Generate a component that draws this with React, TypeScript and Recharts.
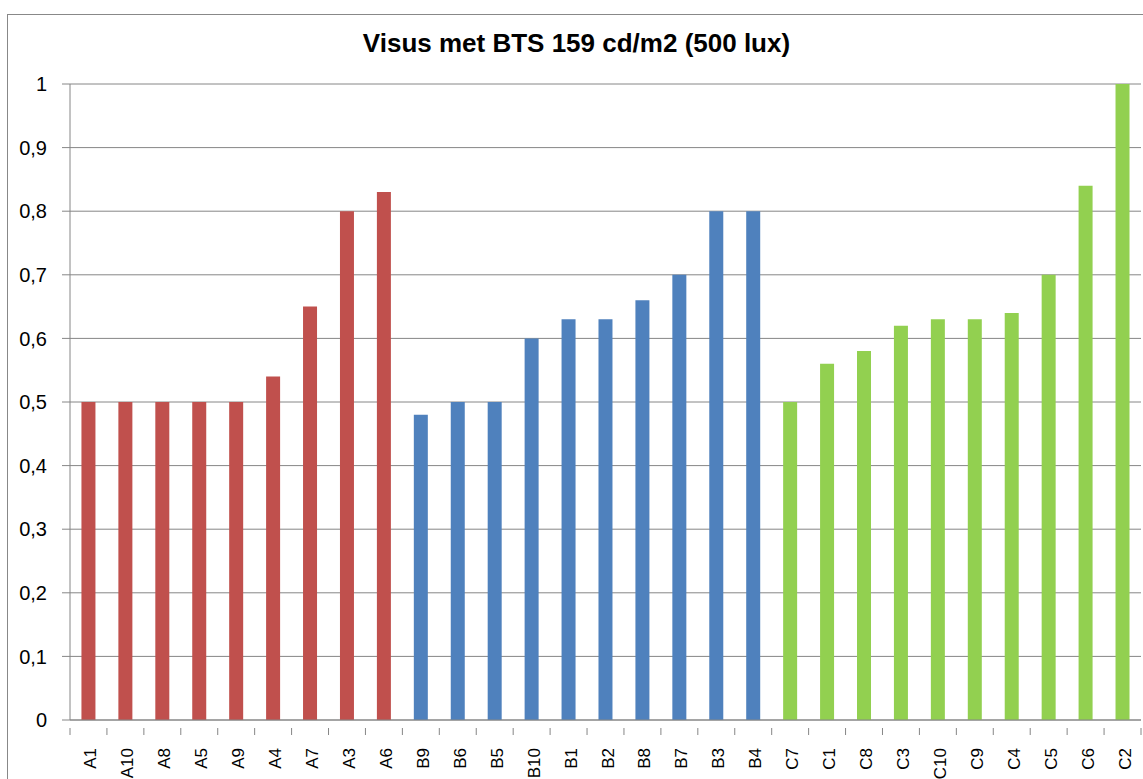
import { BarChart, Bar, XAxis, YAxis, CartesianGrid, Cell } from 'recharts'

const groupANames = ['A1', 'A10', 'A8', 'A5', 'A9', 'A4', 'A7', 'A3', 'A6']
const groupAValues = [0.5, 0.5, 0.5, 0.5, 0.5, 0.54, 0.65, 0.8, 0.83]
const groupBNames = ['B9', 'B6', 'B5', 'B10', 'B1', 'B2', 'B8', 'B7', 'B3', 'B4']
const groupBValues = [0.48, 0.5, 0.5, 0.6, 0.63, 0.63, 0.66, 0.7, 0.8, 0.8]
const groupCNames = ['C7', 'C1', 'C8', 'C3', 'C10', 'C9', 'C4', 'C5', 'C6', 'C2']
const groupCValues = [0.5, 0.56, 0.58, 0.62, 0.63, 0.63, 0.64, 0.7, 0.84, 1]
const yTicks = [0, 0.1, 0.2, 0.3, 0.4, 0.5, 0.6, 0.7, 0.8, 0.9, 1]

const groupColors = ['#C0504D', '#4F81BD', '#92D050']

const data = [
  ...groupANames.map((name, i) => ({ name, value: groupAValues[i], group: 0 })),
  ...groupBNames.map((name, i) => ({ name, value: groupBValues[i], group: 1 })),
  ...groupCNames.map((name, i) => ({ name, value: groupCValues[i], group: 2 })),
]

const font = '"Liberation Sans", Arial, sans-serif'
const axisColor = '#868686'

// Excel puts the category ticks on the boundaries, so draw them ourselves
function CategoryTick(props: any) {
  const { x, y, payload, index } = props
  const half = 1071 / data.length / 2
  return (
    <g>
      {index === 0 && <line x1={x - half} y1={y} x2={x - half} y2={y + 7} stroke={axisColor} />}
      <line x1={x + half} y1={y} x2={x + half} y2={y + 7} stroke={axisColor} />
      <text
        x={x + 8}
        y={y + 20}
        transform={`rotate(-90, ${x + 8}, ${y + 20})`}
        textAnchor="end"
        fontSize={17}
        fontFamily={font}
        fill="#000"
      >
        {payload.value}
      </text>
    </g>
  )
}

export default function App() {
  return (
    <div
      style={{
        position: 'absolute',
        left: 0,
        top: 0,
        width: 1143,
        height: 779,
        overflow: 'hidden',
        background: '#fff',
      }}
    >
      <div
        style={{
          position: 'absolute',
          left: 7,
          top: 14,
          width: 1160,
          height: 800,
          border: '1px solid #888',
        }}
      />
      <div
        style={{
          position: 'absolute',
          left: 0,
          width: 1153,
          top: 28,
          textAlign: 'center',
          fontFamily: font,
          fontWeight: 'bold',
          fontSize: 26,
          color: '#000',
        }}
      >
        Visus met BTS 159 cd/m2 (500 lux)
      </div>
      <div style={{ position: 'absolute', left: 0, top: 0 }}>
        <BarChart
          width={1143}
          height={779}
          data={data}
          margin={{ top: 84, right: 2, bottom: 0, left: 0 }}
          barCategoryGap="31%"
        >
          <CartesianGrid vertical={false} stroke={axisColor} />
          <XAxis
            dataKey="name"
            interval={0}
            height={59}
            axisLine={{ stroke: axisColor }}
            tickLine={false}
            tick={<CategoryTick />}
          />
          <YAxis
            width={70}
            domain={[0, 1]}
            ticks={yTicks}
            tickSize={8}
            tickMargin={15}
            axisLine={{ stroke: axisColor }}
            tickLine={{ stroke: axisColor }}
            tick={{ fontSize: 20, fontFamily: font, fill: '#000' }}
            tickFormatter={(v: number) => String(v).replace('.', ',')}
          />
          <Bar dataKey="value" isAnimationActive={false}>
            {data.map((d) => (
              <Cell key={d.name} fill={groupColors[d.group]} />
            ))}
          </Bar>
        </BarChart>
      </div>
    </div>
  )
}
